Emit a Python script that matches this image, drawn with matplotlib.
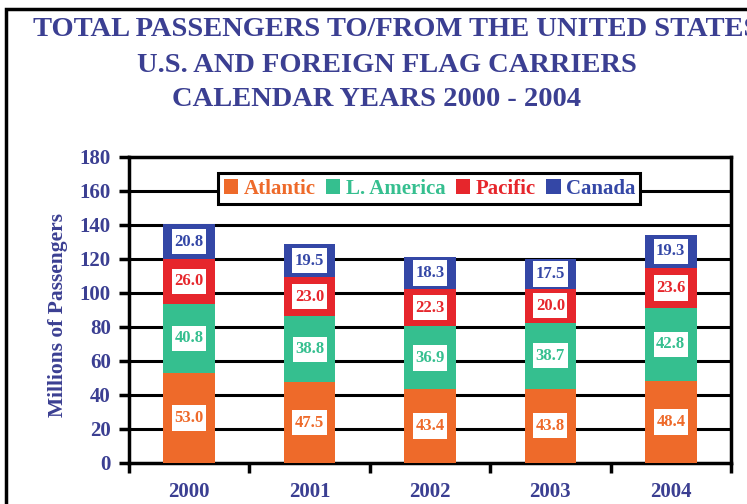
import matplotlib
matplotlib.use("Agg")
import matplotlib.pyplot as plt
from matplotlib.patches import Rectangle
from matplotlib.path import Path
import numpy as np

years = ["2000", "2001", "2002", "2003", "2004"]
series_names = ["Atlantic", "L. America", "Pacific", "Canada"]
atlantic = [53.0, 47.5, 43.4, 43.8, 48.4]
latin_america = [40.8, 38.8, 36.9, 38.7, 42.8]
pacific = [26.0, 23.0, 22.3, 20.0, 23.6]
canada = [20.8, 19.5, 18.3, 17.5, 19.3]
y_ticks = [0, 20, 40, 60, 80, 100, 120, 140, 160, 180]

colors = ["#EE6A2A", "#35BF8F", "#E6262C", "#3447A6"]
text_blue = "#3B3F92"
serif = ["Liberation Serif", "DejaVu Serif"]

fig = plt.figure(figsize=(7.47, 5.04), dpi=100)
fig.patch.set_facecolor("white")

# outer frame around the whole exhibit
fig.patches.append(Rectangle((6 / 747, -0.05), 1.2, (504 - 9) / 504 + 0.05,
                             transform=fig.transFigure, fill=False,
                             edgecolor="black", linewidth=2.5, zorder=0))

title_lines = ["TOTAL PASSENGERS TO/FROM THE UNITED STATES",
               "U.S. AND FOREIGN FLAG CARRIERS",
               "CALENDAR YEARS 2000 - 2004"]
title_x = [396, 387, 376]
title_y = [30, 65, 100]
for line, xp, yp in zip(title_lines, title_x, title_y):
    fig.text(xp / 747, 1 - yp / 504, line, ha="center", va="center",
             fontsize=20.5, fontweight="bold", family=serif, color=text_blue)


def label_box(x0, y0, width, height, mutation_size):
    """White rectangle, a little taller than the text it holds."""
    px = 0.15 * mutation_size
    py = 0.28 * mutation_size
    verts = [(x0 - px, y0 - py), (x0 + width + px, y0 - py),
             (x0 + width + px, y0 + height + py), (x0 - px, y0 + height + py),
             (x0 - px, y0 - py)]
    return Path(verts, closed=True)


ax = fig.add_axes([129 / 747, 1 - 463 / 504, (731 - 129) / 747, (463 - 157) / 504])
x = np.arange(len(years))
width = 0.43

bottom = np.zeros(len(years))
bars = []
for vals, name, col in zip([atlantic, latin_america, pacific, canada], series_names, colors):
    b = ax.bar(x, vals, width, bottom=bottom, color=col, label=name, zorder=3)
    bottom += np.array(vals)
    bars.append((b, col))

for b, col in bars:
    ax.bar_label(b, fmt="%.1f", label_type="center", fontsize=12,
                 fontweight="bold", family=serif, color=col,
                 bbox=dict(boxstyle=label_box, facecolor="white", edgecolor="none"),
                 zorder=5)

ax.set_xlim(-0.5, len(years) - 0.5)
ax.set_ylim(0, 180)
ax.set_yticks(y_ticks)
ax.set_yticklabels([str(v) for v in y_ticks])
for yv in y_ticks[1:-1]:
    ax.axhline(yv, color="black", linewidth=2.2, zorder=1)

ax.set_xticks(x)
ax.set_xticklabels(years)
ax.set_xticks(np.arange(-0.5, len(years) + 0.5, 1.0), minor=True)
ax.tick_params(axis="x", which="major", length=0, pad=14)
ax.tick_params(axis="x", which="minor", length=7, width=2.5, direction="out", color="black")
ax.tick_params(axis="y", length=7, width=2.5, direction="out", color="black", pad=6)

for lab in ax.get_xticklabels() + ax.get_yticklabels():
    lab.set_fontfamily(serif)
    lab.set_fontweight("bold")
    lab.set_fontsize(15)
    lab.set_color(text_blue)

for sp in ax.spines.values():
    sp.set_linewidth(2.5)
    sp.set_color("black")

ax.set_ylabel("Millions of Passengers", fontsize=15.5, fontweight="bold",
              family=serif, color=text_blue)
ax.yaxis.set_label_coords(-0.101, 0.484)

leg = ax.legend(loc="center", bbox_to_anchor=(0.499, 0.897), ncol=4,
                frameon=True, fancybox=False, edgecolor="black",
                prop=dict(family=serif, weight="bold", size=15),
                handlelength=0.7, handleheight=0.7, handletextpad=0.25,
                columnspacing=0.5, borderpad=0.25, borderaxespad=0)
leg.get_frame().set_linewidth(2.2)
leg.get_frame().set_alpha(1)
leg.set_zorder(6)
for txt, col in zip(leg.get_texts(), colors):
    txt.set_color(col)

fig.savefig("out.png", dpi=100, facecolor="white")
